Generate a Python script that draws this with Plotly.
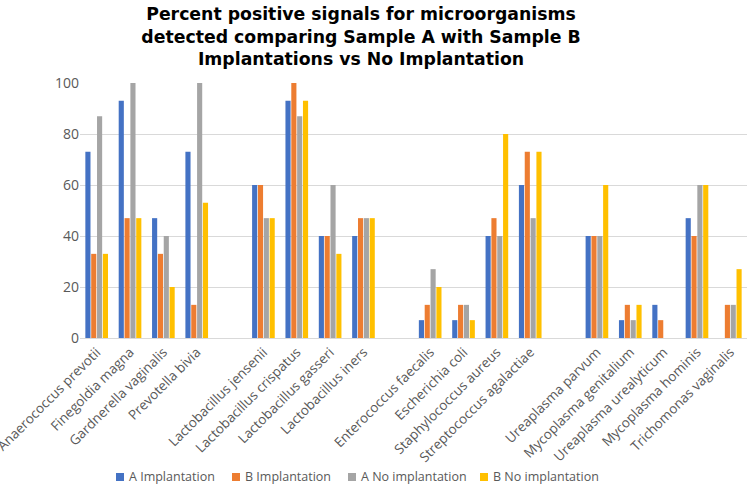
import plotly.graph_objects as go

organisms = [
    "Anaerococcus prevotii", "Finegoldia magna", "Gardnerella vaginalis", "Prevotella bivia", "",
    "Lactobacillus jensenii", "Lactobacillus crispatus", "Lactobacillus gasseri", "Lactobacillus iners", "",
    "Enterococcus faecalis", "Escherichia coli", "Staphylococcus aureus", "Streptococcus agalactiae", "",
    "Ureaplasma parvum", "Mycoplasma genitalium", "Ureaplasma urealyticum", "Mycoplasma hominis", "Trichomonas vaginalis",
]

a_impl = [73, 93, 47, 73, None, 60, 93, 40, 40, None, 7, 7, 40, 60, None, 40, 7, 13, 47, 0]
b_impl = [33, 47, 33, 13, None, 60, 100, 40, 47, None, 13, 13, 47, 73, None, 40, 13, 7, 40, 13]
a_no = [87, 100, 40, 100, None, 47, 87, 60, 47, None, 27, 13, 40, 47, None, 40, 7, 0, 60, 13]
b_no = [33, 47, 20, 53, None, 47, 93, 33, 47, None, 20, 7, 80, 73, None, 60, 13, 0, 60, 27]

series = [
    ("A Implantation", a_impl, "#4472C4"),
    ("B Implantation", b_impl, "#ED7D31"),
    ("A No implantation", a_no, "#A5A5A5"),
    ("B No implantation", b_no, "#FFC000"),
]

# plot box in pixels (margins below), used to place the hand-made legend
L, R, T, B = 80, 2, 83, 147
W, H = 749, 485
pw, ph = W - L - R, H - T - B


def px_x(px):
    return (px - L) / pw


def px_y(py):
    return (H - B - py) / ph


xpos = list(range(len(organisms)))

fig = go.Figure()
for name, vals, col in series:
    fig.add_trace(go.Bar(x=xpos, y=vals, name=name, marker_color=col,
                         marker_line_width=0, showlegend=False))

# legend: Excel-style, small square right next to the label
leg_x = [116, 232, 348, 480]
leg_y = 477
for (name, vals, col), lx in zip(series, leg_x):
    fig.add_shape(type="rect", xref="paper", yref="paper",
                  x0=px_x(lx), x1=px_x(lx + 8), y0=px_y(leg_y + 4), y1=px_y(leg_y - 4),
                  fillcolor=col, line_width=0)
    fig.add_annotation(x=px_x(lx + 11), y=px_y(leg_y), xref="paper", yref="paper",
                       text=name, showarrow=False, xanchor="left", yanchor="middle",
                       font=dict(size=12.5, color="#595959"))

fig.update_layout(
    width=W, height=H,
    margin=dict(l=L, r=R, t=T, b=B),
    paper_bgcolor="white", plot_bgcolor="white",
    barmode="group", bargap=0.3, bargroupgap=0.12,
    font=dict(family="Open Sans", size=13, color="#595959"),
    title=dict(
        text="Percent positive signals for microorganisms<br>detected comparing Sample A with Sample B<br>Implantations vs No Implantation",
        x=0.482, xanchor="center", y=0.958, yanchor="middle",
        font=dict(family="DejaVu Sans", size=17.3, color="black", weight="bold"),
    ),
    showlegend=False,
)
fig.update_xaxes(
    tickmode="array", tickvals=xpos, ticktext=organisms, tickangle=-45,
    range=[-0.5, len(organisms) - 0.5], showline=True, linecolor="#D9D9D9",
    showgrid=False, automargin=False, ticklabeloverflow="allow",
    tickfont=dict(size=13.5),
)
fig.update_yaxes(
    range=[0, 100], dtick=20, gridcolor="#D9D9D9", zeroline=False,
    automargin=False, tickfont=dict(size=14), ticklen=0,
)

fig.write_html("out.html", config={"displayModeBar": False},
               post_script="document.body.style.margin='0';")
